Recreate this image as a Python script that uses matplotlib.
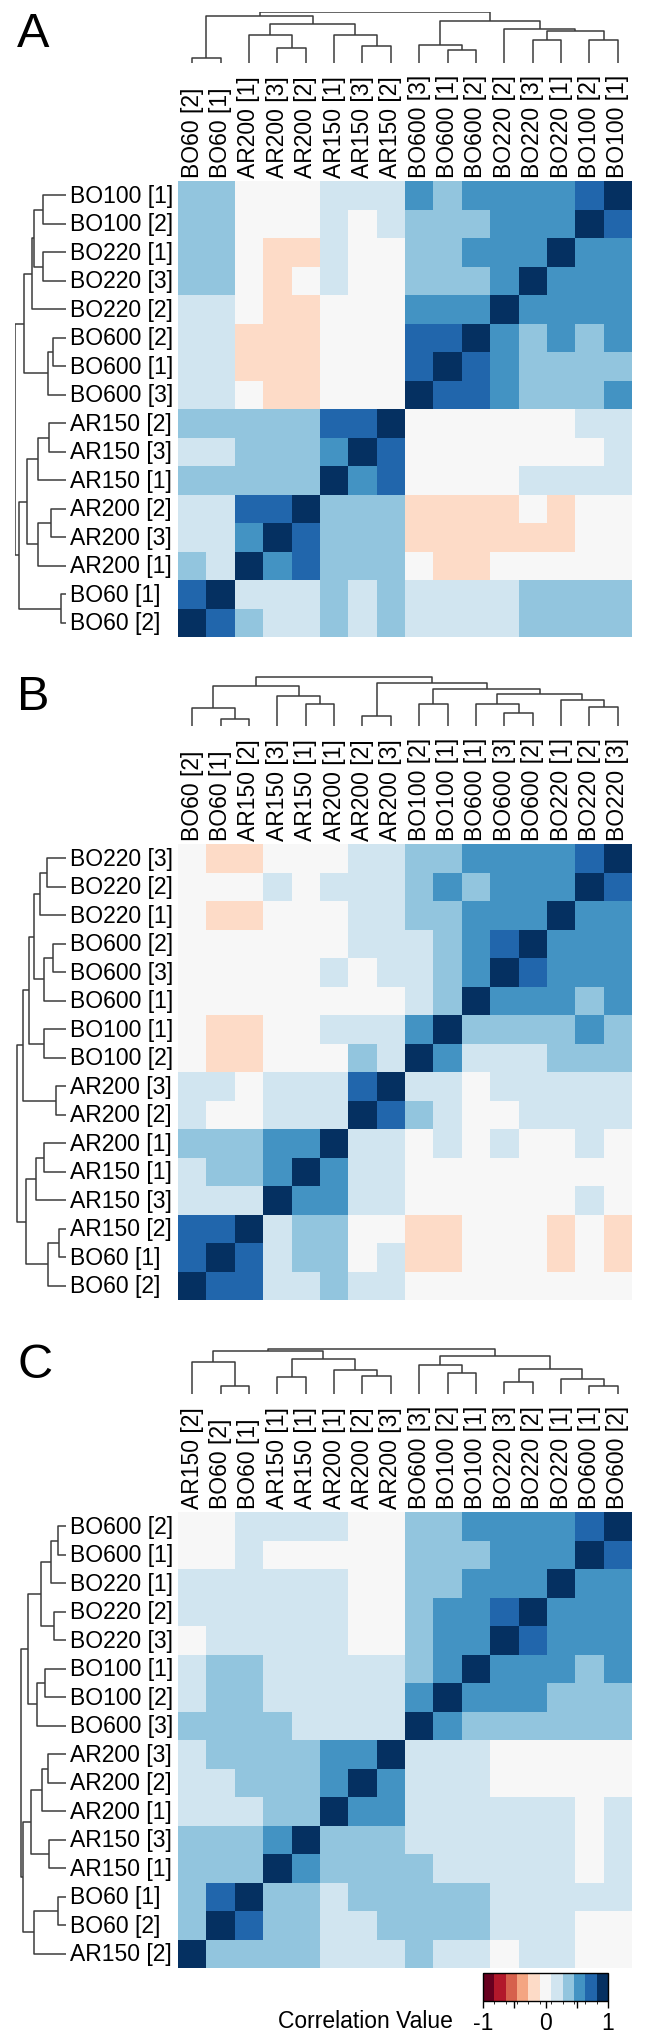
import numpy as np
import matplotlib
matplotlib.use("Agg")
import matplotlib.pyplot as plt
from matplotlib.colors import ListedColormap, BoundaryNorm
from matplotlib.cm import ScalarMappable

plt.rcParams['font.family'] = ['Liberation Sans', 'DejaVu Sans']

W, H = 646, 2040

# RdBu, 11 classes between -1 and 1
rdbu11 = ["#67001f", "#b2182b", "#d6604d", "#f4a582", "#fddbc7", "#f7f7f7",
          "#d1e5f0", "#92c5de", "#4393c3", "#2166ac", "#053061"]

# correlation value estimated for each colour class seen in the cells
level = {"n": -0.15, "0": 0.0, "1": 0.2, "2": 0.4, "3": 0.55, "4": 0.75, "5": 1.0}

# ---- panel A ----
a_cols = ["BO60 [2]", "BO60 [1]", "AR200 [1]", "AR200 [3]", "AR200 [2]",
          "AR150 [1]", "AR150 [3]", "AR150 [2]", "BO600 [3]", "BO600 [1]",
          "BO600 [2]", "BO220 [2]", "BO220 [3]", "BO220 [1]", "BO100 [2]", "BO100 [1]"]
a_rows = ["BO100 [1]", "BO100 [2]", "BO220 [1]", "BO220 [3]", "BO220 [2]",
          "BO600 [2]", "BO600 [1]", "BO600 [3]", "AR150 [2]", "AR150 [3]",
          "AR150 [1]", "AR200 [2]", "AR200 [3]", "AR200 [1]", "BO60 [1]", "BO60 [2]"]
a_corr = ["2200011132333345",
          "2200010122233354",
          "220nn10022333533",
          "220n010022235333",
          "110nn00033353333",
          "11nnn00044532323",
          "11nnn00045432222",
          "110nn00054432223",
          "2222244500000011",
          "1122235400000001",
          "2222253400001111",
          "11445222nnnn0n00",
          "11354222nnnnnn00",
          "215342220nn00000",
          "4511121211112222",
          "5421121211112222"]
# merges: (left node, right node, height); leaves are 0..15 in column order
a_tree = [(0, 1, 15), (3, 4, 45), (2, 17, 85), (6, 7, 50), (5, 19, 85),
          (18, 20, 117), (16, 21, 140), (9, 10, 40), (8, 23, 55), (12, 13, 70),
          (14, 15, 70), (25, 26, 95), (11, 27, 103), (24, 28, 127), (22, 29, 153)]

# ---- panel B ----
b_cols = ["BO60 [2]", "BO60 [1]", "AR150 [2]", "AR150 [3]", "AR150 [1]",
          "AR200 [1]", "AR200 [2]", "AR200 [3]", "BO100 [2]", "BO100 [1]",
          "BO600 [1]", "BO600 [3]", "BO600 [2]", "BO220 [1]", "BO220 [2]", "BO220 [3]"]
b_rows = ["BO220 [3]", "BO220 [2]", "BO220 [1]", "BO600 [2]", "BO600 [3]",
          "BO600 [1]", "BO100 [1]", "BO100 [2]", "AR200 [3]", "AR200 [2]",
          "AR200 [1]", "AR150 [1]", "AR150 [3]", "AR150 [2]", "BO60 [1]", "BO60 [2]"]
b_corr = ["0nn0001122333345",
          "0001011123233354",
          "0nn0001122333533",
          "0000001112345333",
          "0000010112354333",
          "0000000012533323",
          "0nn0011135222232",
          "0nn0002153111222",
          "1101114511011111",
          "1001115421001111",
          "2223351101010010",
          "1223531100000000",
          "1115331100000010",
          "44512200nn000n0n",
          "45412201nn000n0n",
          "5441121100000000"]
b_tree = [(1, 2, 20), (0, 16, 53), (4, 5, 67), (3, 18, 90), (17, 19, 120),
          (6, 7, 30), (8, 9, 67), (11, 12, 38), (10, 23, 67), (14, 15, 57),
          (13, 25, 77), (24, 26, 97), (22, 27, 112), (21, 28, 130), (20, 29, 147)]

# ---- panel C ----
c_cols = ["AR150 [2]", "BO60 [2]", "BO60 [1]", "AR150 [1]", "AR150 [1]",
          "AR200 [1]", "AR200 [2]", "AR200 [3]", "BO600 [3]", "BO100 [2]",
          "BO100 [1]", "BO220 [3]", "BO220 [2]", "BO220 [1]", "BO600 [1]", "BO600 [2]"]
c_rows = ["BO600 [2]", "BO600 [1]", "BO220 [1]", "BO220 [2]", "BO220 [3]",
          "BO100 [1]", "BO100 [2]", "BO600 [3]", "AR200 [3]", "AR200 [2]",
          "AR200 [1]", "AR150 [3]", "AR150 [1]", "BO60 [1]", "BO60 [2]", "AR150 [2]"]
c_corr = ["0011110022333345",
          "0010000022233354",
          "1111110022333533",
          "1111110023345333",
          "0111110023354333",
          "1221111123533323",
          "1221111135333222",
          "2222111153222222",
          "1222233511100000",
          "1122235311100000",
          "1112253311111101",
          "2223522211111101",
          "2225322221111101",
          "2452212222211111",
          "2542211222211100",
          "5222211121101100"]
c_tree = [(1, 2, 25), (0, 16, 95), (3, 4, 50), (6, 7, 53), (5, 19, 73),
          (18, 20, 105), (17, 21, 128), (9, 10, 63), (8, 23, 87), (11, 12, 35),
          (14, 15, 23), (13, 26, 45), (25, 27, 75), (24, 28, 115), (22, 29, 135)]

panels = [("A", a_cols, a_rows, a_corr, a_tree, 182),
          ("B", b_cols, b_rows, b_corr, b_tree, 845),
          ("C", c_cols, c_rows, c_corr, c_tree, 1513)]

cmap = ListedColormap(rdbu11)
norm = BoundaryNorm(np.linspace(-1, 1, 12), cmap.N)

HM_X0, HM_X1 = 178, 632
HM_SIZE = 456
DEND_H = 51       # pixels for a height of 153
DEND_MAX = 153
LINE = dict(color="#3c3c3c", lw=1.1, solid_capstyle="butt")
FS = 16.5

fig = plt.figure(figsize=(W / 100, H / 100), dpi=100)


def px_axes(x0, y0, x1, y1):
    return fig.add_axes([x0 / W, 1 - y1 / H, (x1 - x0) / W, (y1 - y0) / H])


def draw_tree(ax, tree, side):
    pos = {i: i + 0.5 for i in range(16)}
    hgt = {i: 0.0 for i in range(16)}
    for k, (a, b, h) in enumerate(tree):
        xs = [pos[a], pos[a], pos[b], pos[b]]
        ys = [hgt[a], h, h, hgt[b]]
        if side == "top":
            ax.plot(xs, ys, **LINE)
        else:
            ax.plot(ys, xs, **LINE)
        pos[16 + k] = (pos[a] + pos[b]) / 2
        hgt[16 + k] = h


for letter, cols, rows, corr, tree, top in panels:
    vals = np.array([[level[ch] for ch in r] for r in corr])

    ax = px_axes(HM_X0, top, HM_X1, top + HM_SIZE)
    ax.pcolormesh(np.arange(17), np.arange(17), vals, cmap=cmap, norm=norm,
                  edgecolors="none", antialiased=False)
    ax.set_xlim(0, 16)
    ax.set_ylim(16, 0)
    ax.axis("off")

    for i, lab in enumerate(cols):
        ax.text(i + 0.5, 1 + 4 / HM_SIZE, lab, transform=ax.get_xaxis_transform(),
                rotation=90, ha="center", va="bottom", fontsize=FS)
    for j, lab in enumerate(rows):
        ax.text(-(HM_X0 - 70) / (HM_X1 - HM_X0), j + 0.5, lab,
                transform=ax.get_yaxis_transform(), ha="left", va="center",
                fontsize=FS)

    # column dendrogram
    dtop = top - 118 - DEND_H
    axc = px_axes(HM_X0, dtop, HM_X1, top - 118)
    draw_tree(axc, tree, "top")
    axc.set_xlim(0, 16)
    axc.set_ylim(0, DEND_MAX)
    axc.axis("off")

    # row dendrogram (leaf 0 sits at the bottom row)
    axr = px_axes(66 - DEND_H, top, 66, top + HM_SIZE)
    draw_tree(axr, tree, "left")
    axr.set_xlim(DEND_MAX, 0)
    axr.set_ylim(0, 16)
    axr.axis("off")

    fig.text(17 / W, 1 - (top - 170) / H, letter, fontsize=35,
             ha="left", va="top")

# colour key
cax = px_axes(483, 1974, 608, 2002)
cb = fig.colorbar(ScalarMappable(norm=norm, cmap=cmap), cax=cax,
                  orientation="horizontal", ticks=[-1, -0.5, 0, 0.5, 1])
cb.ax.set_xticklabels(["-1", "", "0", "", "1"])
cb.ax.tick_params(axis="x", length=5, width=1, direction="out", labelsize=FS, pad=2)
cb.outline.set_linewidth(1)
fig.text(453 / W, 1 - 2022 / H, "Correlation Value", fontsize=FS,
         ha="right", va="center")

fig.savefig("out.png", dpi=100)
